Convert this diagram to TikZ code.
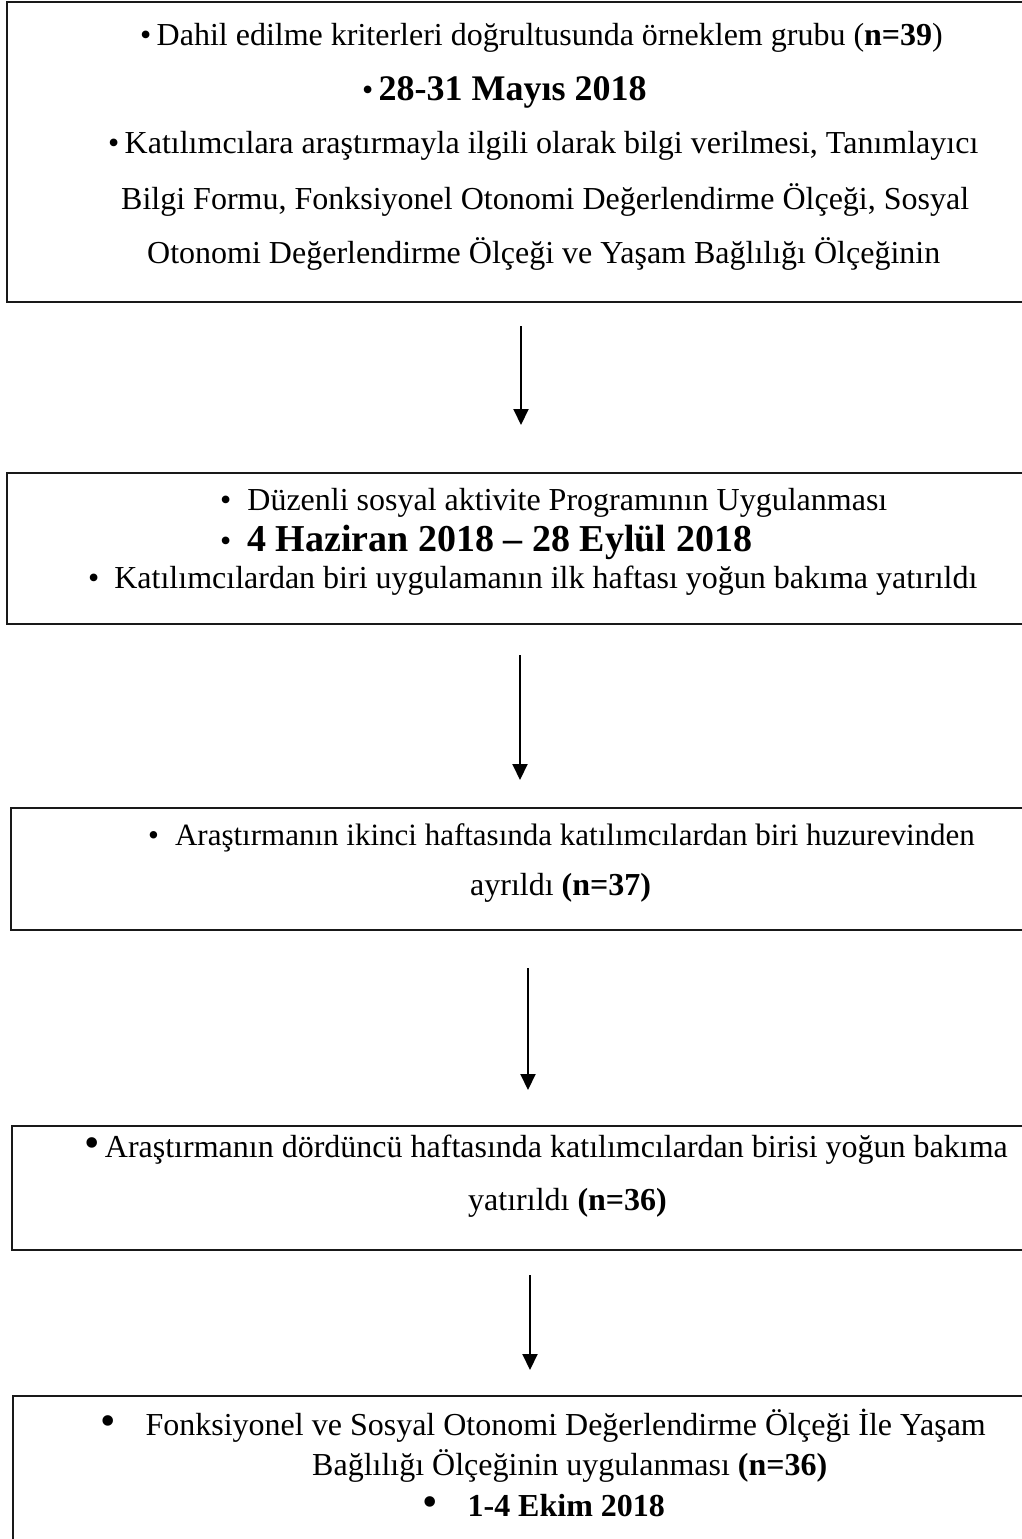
\documentclass[tikz,border=0pt]{standalone}
\usepackage{fontspec}
\setmainfont{Liberation Serif}
\usepackage{tikz}
\usetikzlibrary{arrows.meta,positioning}

\begin{document}
\begin{tikzpicture}[x=1pt, y=-1pt,
    font=\fontsize{32}{38}\selectfont,
    stagebox/.style={draw=black!90, line width=2.4pt, inner sep=0pt, anchor=north west},
    ln/.style={anchor=west, inner sep=0pt},
    flow/.style={-{Triangle[width=15pt, length=16pt]}, line width=2pt}]
  \useasboundingbox (0,0) rectangle (1022,1539);
  \clip (0,0) rectangle (1022,1539);

  % kutular
  \node[stagebox, minimum width=1040pt, minimum height=300pt] (sample) at (6,1) {};
  \node[stagebox, minimum width=1040pt, minimum height=151pt] (program) at (6,472) {};
  \node[stagebox, minimum width=1040pt, minimum height=122pt] (week2) at (10,807) {};
  \node[stagebox, minimum width=1040pt, minimum height=124pt] (week4) at (11,1125) {};
  \node[stagebox, minimum width=1040pt, minimum height=180pt] (final) at (12,1395) {};

  % 1. kutu
  \node[ln] (s1) at (140,38) {•\,Dahil edilme kriterleri doğrultusunda örneklem grubu (\textbf{n=39})};
  \node[ln] (s2) at (362,92) {•\,{\fontsize{36}{38}\selectfont\bfseries 28-31 Mayıs 2018}};
  \node[ln] (s3) at (108,146) {•\,Katılımcılara araştırmayla ilgili olarak bilgi verilmesi, Tanımlayıcı};
  \node[ln] (s4) at (121,200) {Bilgi Formu, Fonksiyonel Otonomi Değerlendirme Ölçeği, Sosyal};
  \node[ln] (s5) at (147,254) {Otonomi Değerlendirme Ölçeği ve Yaşam Bağlılığı Ölçeğinin};

  % 2. kutu
  \node[ln] (p1) at (220,503) {•\hspace{16pt}Düzenli sosyal aktivite Programının Uygulanması};
  \node[ln] (p2) at (220,542) {•\hspace{16pt}{\fontsize{38}{38}\selectfont\bfseries 4 Haziran 2018 – 28 Eylül 2018}};
  \node[ln] (p3) at (88,581) {•\hspace{15pt}Katılımcılardan biri uygulamanın ilk haftası yoğun bakıma yatırıldı};

  % 3. kutu
  \node[ln, font=\fontsize{31}{38}\selectfont] (w1) at (148,838) {•\hspace{16pt}Araştırmanın ikinci haftasında katılımcılardan biri huzurevinden};
  \node[ln] (w2) at (470,888) {ayrıldı \textbf{(n=37)}};

  % 4. kutu
  \node[ln] (v1) at (84,1150) {{\fontsize{44}{38}\selectfont •}\,Araştırmanın dördüncü haftasında katılımcılardan birisi yoğun bakıma};
  \node[ln] (v2) at (468,1203) {yatırıldı \textbf{(n=36)}};

  % 5. kutu
  \node[ln] (f1) at (100,1426) {{\fontsize{44}{38}\selectfont •}\hspace{30pt}Fonksiyonel ve Sosyal Otonomi Değerlendirme Ölçeği İle Yaşam};
  \node[ln] (f2) at (312,1466) {Bağlılığı Ölçeğinin uygulanması \textbf{(n=36)}};
  \node[ln] (f3) at (422,1506) {{\fontsize{44}{38}\selectfont •}\hspace{30pt}\textbf{1-4 Ekim 2018}};

  % oklar
  \coordinate (a1) at (521,326);  \coordinate (b1) at (521,425);
  \coordinate (a2) at (520,655);  \coordinate (b2) at (520,780);
  \coordinate (a3) at (528,968);  \coordinate (b3) at (528,1090);
  \coordinate (a4) at (530,1275); \coordinate (b4) at (530,1370);
  \draw[flow] (a1) -- (b1);
  \draw[flow] (a2) -- (b2);
  \draw[flow] (a3) -- (b3);
  \draw[flow] (a4) -- (b4);
\end{tikzpicture}
\end{document}
